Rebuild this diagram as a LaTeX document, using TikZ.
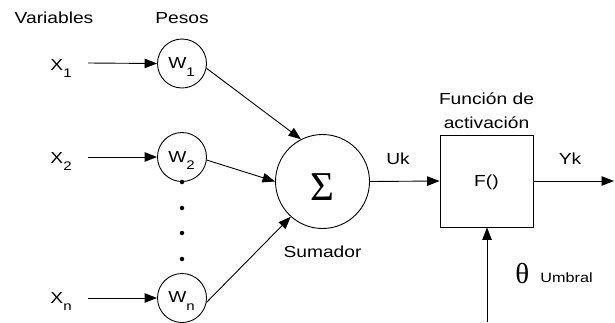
\documentclass[tikz,border=0pt]{standalone}
\usepackage{fontspec}
\setmainfont{Liberation Sans}[FakeStretch=1.2]
\newfontfamily\grkfont{Liberation Serif}
\usetikzlibrary{arrows.meta}
\newcommand{\mysub}[1]{\raisebox{-7.5pt}{\fontsize{12.5}{13}\selectfont #1}}
\begin{document}
\begin{tikzpicture}[x=1pt,y=-1pt,
  every node/.style={inner sep=0pt, font=\fontsize{16}{19}\selectfont},
  line width=0.9pt,
  arr/.style={-{Triangle[length=12.5pt,width=9.5pt]}},
  wcirc/.style={circle, draw, minimum size=49pt},
  lbl/.style={anchor=base},
  dotmark/.style={circle, fill=black, minimum size=4.5pt}]
\useasboundingbox (0,0) rectangle (615,322);
% headers
\node[lbl] (hvar) at (54,23) {Variables};
\node[lbl] (hpes) at (182,23) {Pesos};
% inputs
\node[lbl, anchor=base west] (x1) at (50,70) {X\mysub{1}};
\node[lbl, anchor=base west] (x2) at (50,163) {X\mysub{2}};
\node[lbl, anchor=base west] (xn) at (50,303) {X\mysub{n}};
\coordinate (s1) at (88,63);
\coordinate (s2) at (88,157);
\coordinate (sn) at (88,298);
% weights
\node[wcirc] (w1) at (182,63.5) {};
\node[wcirc] (w2) at (182,157) {};
\node[wcirc] (wn) at (182,298) {};
\node[lbl] (tw1) at (181.5,68.5) {W\mysub{1}};
\node[lbl] (tw2) at (181.5,162) {W\mysub{2}};
\node[lbl] (twn) at (181.5,302.5) {W\mysub{n}};
% dots
\node[dotmark] (d1) at (182,182) {};
\node[dotmark] (d2) at (182,208) {};
\node[dotmark] (d3) at (182,233) {};
\node[dotmark] (d4) at (182,259) {};
% summation
\node[circle, draw, minimum size=94pt] (sum) at (322.5,181.5) {};
\node[lbl] (sig) at (322.5,200) {\grkfont\fontsize{41}{41}\selectfont Σ};
\node[lbl] (tsum) at (322.5,257) {Sumador};
\node[lbl] (uk) at (398,164) {Uk};
% activation
\node[draw, rectangle, minimum width=93pt, minimum height=92pt] (box) at (486.5,181) {};
\node[lbl] (fx) at (486.5,186.5) {F()};
\node[lbl] (fa1) at (486.5,104) {Función de};
\node[lbl] (fa2) at (486.5,128.5) {activación};
\node[lbl] (yk) at (570,164.5) {Yk};
\coordinate (out) at (614,181);
\coordinate (thb) at (487,322);
\node[lbl, anchor=base west] (th) at (515,283) {\grkfont\fontsize{29}{29}\selectfont θ};
\node[lbl, anchor=base west, font=\fontsize{13.5}{15}\selectfont] (umb) at (540,282) {Umbral};
% connectors
\draw[arr] (s1) -- (w1.west);
\draw[arr] (s2) -- (w2.west);
\draw[arr] (sn) -- (wn.west);
\draw[arr] (w1.-11) -- (sum.117);
\draw[arr] (w2.-7) -- (sum.180);
\draw[arr] (wn.-10) -- (sum.228);
\draw[arr] (sum.east) -- (box.west);
\draw[arr] (box.east) -- (out);
\draw[arr] (thb) -- (box.south -| thb);
\end{tikzpicture}
\end{document}
